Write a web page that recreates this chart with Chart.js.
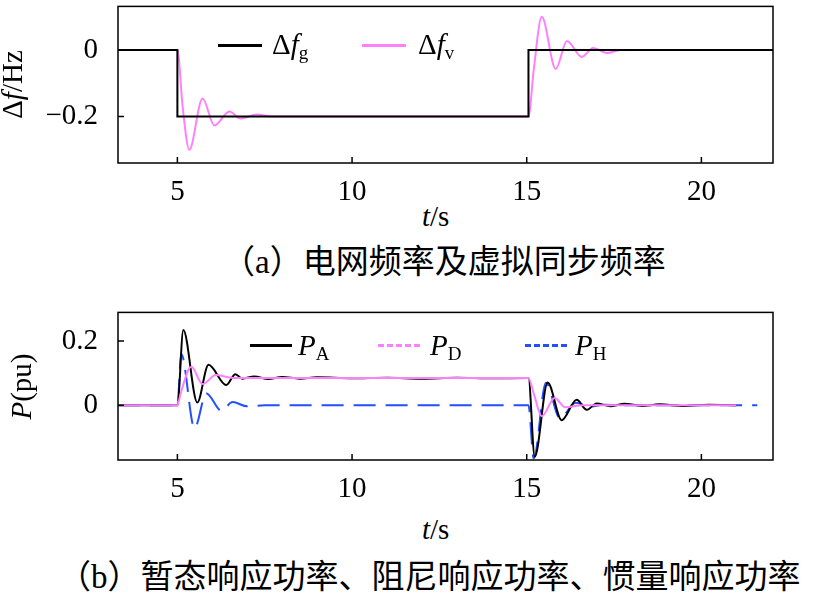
<!DOCTYPE html>
<html><head><meta charset="utf-8">
<script src="https://cdn.jsdelivr.net/npm/chart.js@4"></script>
<style>
body{margin:0;width:828px;height:595px;background:#fff;position:relative;overflow:hidden;font-family:"Liberation Serif",serif}
canvas{position:absolute;left:0}
.t{position:absolute;font-size:29px;white-space:nowrap;color:#000;line-height:1}
.cap{font-family:"Liberation Serif","Noto Sans CJK SC";font-size:33px}
.ln{position:absolute;height:0}
sub{font-size:19px;vertical-align:-5px}
</style></head><body>
<div style="position:absolute;left:0;top:-23px;width:828px;height:223px"><canvas id="c1"></canvas></div>
<div style="position:absolute;left:0;top:283px;width:828px;height:217px"><canvas id="c2"></canvas></div>

<div class="t" style="left:-22px;top:70px;transform:rotate(-90deg)">Δ<i>f</i>/Hz</div>
<div class="t" style="left:-12px;top:372px;transform:rotate(-90deg)"><i>P</i>(pu)</div>
<div class="t" style="left:422px;top:202px"><i>t</i>/s</div>
<div class="t" style="left:422px;top:515px"><i>t</i>/s</div>
<div class="t cap" style="left:222px;top:246px">（a）电网频率及虚拟同步频率</div>
<div class="t cap" style="left:58px;top:561px">（b）暂态响应功率、阻尼响应功率、惯量响应功率</div>

<div class="ln" style="left:218px;top:44px;width:44px;border-top:3px solid #000"></div>
<div class="t" style="left:272px;top:30px">Δ<i>f</i><sub>g</sub></div>
<div class="ln" style="left:362px;top:44px;width:44px;border-top:3px solid #ff80ff"></div>
<div class="t" style="left:418px;top:30px">Δ<i>f</i><sub>v</sub></div>

<div class="ln" style="left:250px;top:344px;width:42px;border-top:3px solid #000"></div>
<div class="t" style="left:298px;top:331px"><i>P</i><sub>A</sub></div>
<div class="ln" style="left:378px;top:344px;width:42px;border-top:3px dashed #ff80ff"></div>
<div class="t" style="left:430px;top:331px"><i>P</i><sub>D</sub></div>
<div class="ln" style="left:525px;top:344px;width:42px;border-top:3px dashed #2050ff"></div>
<div class="t" style="left:575px;top:331px"><i>P</i><sub>H</sub></div>

<script>
const fgT=[3.3,5,5,15.05,15.05,22.05];
const fgV=[0,0,-0.2,-0.2,0,0];
const fvT=[3.3,5,5.15,5.34,5.72,6.06,6.49,6.8,7.28,7.7,15.05,15.2,15.43,15.83,16.15,16.58,16.9,17.3,17.7,22.05];
const fvV=[0,0,-0.17,-0.30,-0.146,-0.227,-0.185,-0.206,-0.194,-0.2,-0.2,-0.06,0.10,-0.057,0.027,-0.021,0.006,-0.009,0,0];
const paT=[3.3,5,5.17,5.57,5.89,6.4,6.66,6.86,7.2,7.6,8.0,8.5,9,10,11,12,13,14,15.05,15.23,15.6,16.0,16.43,16.72,17.0,17.4,17.8,18.3,18.8,19.5,20.2,21];
const paV=[0,0,0.234,0.009,0.126,0.063,0.097,0.083,0.09,0.082,0.088,0.083,0.087,0.084,0.086,0.083,0.086,0.084,0.085,-0.16,0.071,-0.046,0.017,-0.014,0.006,-0.003,0.005,-0.002,0.003,-0.002,0.002,0];
const pdT=[3.3,5,5.1,5.4,5.72,6.1,6.6,8,15.05,15.2,15.43,15.8,16.1,16.6,21];
const pdV=[0,0,0.04,0.12,0.066,0.094,0.085,0.085,0.085,0.037,-0.034,0.023,-0.006,0,0];
const phT=[3.3,5,5.11,5.49,5.83,6.26,6.58,7.0,7.5,15.05,15.2,15.55,15.95,16.4,16.8,17.2,17.7,21.6];
const phV=[0,0,0.16,-0.071,0.037,-0.017,0.01,-0.003,0,0,-0.165,0.07,-0.04,0.008,-0.004,0.002,0,0];

const pts=(T,V)=>T.map((t,i)=>({x:t,y:V[i]}));
const boxPlugin={id:'box',afterDraw(c){const a=c.chartArea,x=c.ctx;x.save();x.strokeStyle='#000';x.lineWidth=1.5;x.strokeRect(a.left,a.top,a.right-a.left,a.bottom-a.top);
x.beginPath();c.scales.x.ticks.forEach(t=>{const p=c.scales.x.getPixelForValue(t.value);x.moveTo(p,a.bottom);x.lineTo(p,a.bottom-6);});
c.scales.y.ticks.forEach(t=>{const p=c.scales.y.getPixelForValue(t.value);x.moveTo(a.left,p);x.lineTo(a.left+6,p);});x.stroke();x.restore();}};
function mk(id,ds,ymin,ymax,yt,pad,xh){
 return new Chart(document.getElementById(id),{type:'line',data:{datasets:ds},plugins:[boxPlugin],
 options:{responsive:true,maintainAspectRatio:false,animation:false,layout:{padding:{top:pad,right:55}},
 plugins:{legend:{display:false},tooltip:{enabled:false}},
 elements:{point:{radius:0},line:{borderWidth:2,cubicInterpolationMode:'monotone'}},
 scales:{x:{type:'linear',min:3.3,max:22.05,grid:{display:false},border:{display:false},
   afterBuildTicks:s=>{s.ticks=[5,10,15,20].map(v=>({value:v}))},afterFit:s=>{s.height=xh},
   ticks:{color:'#000',font:{family:'Liberation Serif',size:29},padding:4}},
  y:{min:ymin,max:ymax,grid:{display:false},border:{display:false},
   afterBuildTicks:s=>{s.ticks=yt.map(v=>({value:v}))},afterFit:s=>{s.width=118},
   ticks:{color:'#000',font:{family:'Liberation Serif',size:29},padding:12,callback:v=>v<0?'−'+Math.abs(v):String(v)}}}}});
}
mk('c1',[
 {data:pts(fgT,fgV),borderColor:'#000',cubicInterpolationMode:'default',tension:0},
 {data:pts(fvT,fvV),borderColor:'#ff80ff'}],-0.34,0.131,[0,-0.2],5,37);
mk('c2',[
 {data:pts(pdT,pdV),borderColor:'#ff80ff'},
 {data:pts(paT,paV),borderColor:'#000'},
 {data:pts(phT,phV),borderColor:'#2050ff',borderDash:[22,10]}],-0.17,0.289,[0,0.2],10,40);
</script></body></html>
